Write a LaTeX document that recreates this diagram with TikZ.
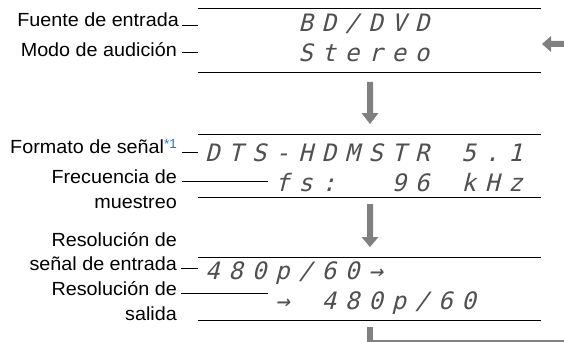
\documentclass[tikz,border=0pt]{standalone}
\usepackage{fontspec}
\setmainfont{Liberation Sans}
\newfontfamily\dmfont{DejaVu Sans Mono}[FakeSlant=0.25]
\definecolor{arrowgray}{RGB}{128,128,128}
\definecolor{noteblue}{RGB}{25,120,230}
\definecolor{dmcolor}{RGB}{80,80,80}
\newcommand\dmcell[1]{\makebox[23.3pt][l]{#1}}
\def\dmrow#1{\dmloop#1\relax}
\def\dmloop#1{\ifx#1\relax\else\dmcell{#1}\expandafter\dmloop\fi}
\tikzset{
  lbl/.style={inner sep=0pt, anchor=base east, font=\fontsize{19}{21}\selectfont, xscale=1.04},
  dm/.style={inner sep=0pt, anchor=base west, font=\dmfont\fontsize{24}{26}\selectfont, text=dmcolor},
  panelline/.style={line width=1pt, black},
  leader/.style={line width=0.8pt, black},
  grayarrow/.style={fill=arrowgray, draw=none},
}
\begin{document}
\begin{tikzpicture}[x=1pt, y=-1pt]
\useasboundingbox (0,0) rectangle (564,342);
% panel frames
\draw[panelline] (198,9) -- (541,9);
\draw[panelline] (198,73) -- (541,73);
\draw[panelline] (198,134) -- (541,134);
\draw[panelline] (198,197) -- (541,197);
\draw[panelline] (198,257) -- (541,257);
\draw[panelline] (198,320) -- (541,320);
% display texts
\node[dm] (d1a) at (205,32) {\dmrow{~~~~BD/DVD}};
\node[dm] (d1b) at (205,62) {\dmrow{~~~~Stereo}};
\node[dm] (d2a) at (205,161) {\dmrow{DTS-HDMSTR~5.1}};
\node[dm] (d2b) at (205,191) {\dmrow{~~~fs:~~96~kHz}};
\node[dm] (d3a) at (205,279) {\dmrow{480p/60→}};
\node[dm] (d3b) at (205,309) {\dmrow{~~~→~480p/60}};
% labels
\node[lbl] (l1) at (179,27) {Fuente de entrada};
\node[lbl] (l2) at (177,57) {Modo de audición};
\node[lbl] (l3) at (177,153) {Formato de señal\raisebox{5pt}{\fontsize{13}{13}\selectfont\textcolor{noteblue}{*1}}};
\node[lbl] (l4) at (177,183) {Frecuencia de};
\node[lbl] (l5) at (177,208) {muestreo};
\node[lbl] (l6) at (177,246) {Resolución de};
\node[lbl] (l7) at (177,270) {señal de entrada};
\node[lbl] (l8) at (177,295) {Resolución de};
\node[lbl] (l9) at (177,320) {salida};
% leader ends
\coordinate (e1) at (198,25);
\coordinate (e2) at (198,52);
\coordinate (e3) at (198,152);
\coordinate (e4) at (268,181);
\coordinate (e7) at (198,268);
\coordinate (e8) at (268,293);
\draw[leader] (e1) -- ++(-16,0);
\draw[leader] (e2) -- ++(-16,0);
\draw[leader] (e3) -- ++(-16,0);
\draw[leader] (e4) -- (182,181);
\draw[leader] (e7) -- ++(-17,0);
\draw[leader] (e8) -- (181,293);
% gray arrows
\fill[grayarrow] (367,82) -- (373,82) -- (373,113) -- (378.5,113) -- (370,124) -- (361.5,113) -- (367,113) -- cycle;
\fill[grayarrow] (367,204) -- (373,204) -- (373,237) -- (378.5,237) -- (370,247) -- (361.5,237) -- (367,237) -- cycle;
\fill[grayarrow] (564,41) -- (551,41) -- (551,36) -- (542,44) -- (551,52) -- (551,47) -- (564,47) -- cycle;
\fill[grayarrow] (367,327) rectangle (373,342);
\draw[arrowgray, line width=1.2pt] (373,341) -- (564,341);
\end{tikzpicture}
\end{document}
